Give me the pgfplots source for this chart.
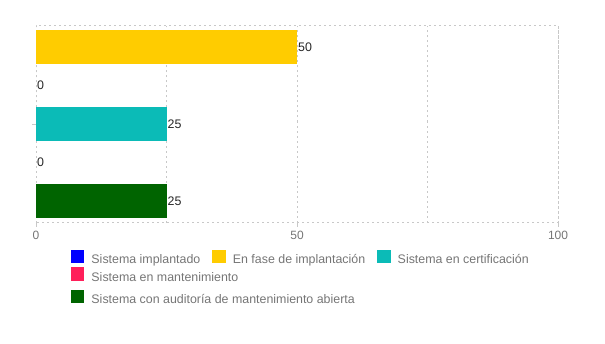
\documentclass[border=0pt]{standalone}
\usepackage{pgfplots}
\pgfplotsset{compat=1.18}
\usepackage{fontspec}
\setmainfont{Liberation Sans}
\definecolor{cBlue}{HTML}{0000FF}
\definecolor{cYellow}{HTML}{FFCC00}
\definecolor{cTeal}{HTML}{0BBBB7}
\definecolor{cRed}{HTML}{FF1F5A}
\definecolor{cGreen}{HTML}{006400}
\definecolor{txtgray}{HTML}{757575}
\definecolor{gridgray}{HTML}{C8C8C8}
\pgfplotsset{
  sqlegend/.style={
    legend image code/.code={\fill[##1] (0bp,-3.5bp) rectangle (13.5bp,10bp);},
    legend cell align=left,
    legend style={draw=none, fill=none, inner sep=0pt, outer sep=0pt, anchor=north west,
      font=\fontsize{12.4bp}{14bp}\selectfont, text=txtgray,
      nodes={inner sep=0pt},
      row sep=7bp,
      /tikz/every odd column/.append style={column sep=7bp},
      /tikz/every even column/.append style={column sep=12bp}},
  }
}
\begin{document}
\begin{tikzpicture}[x=1bp,y=1bp]
\path[use as bounding box] (0,0) rectangle (605,343);
\begin{axis}[
  at={(36bp,120.5bp)}, anchor=south west, scale only axis,
  width=522bp, height=197bp,
  xmin=0, xmax=100, ymin=-0.55, ymax=4.55,
  xbar, bar width=33.7bp, bar shift=0pt,
  xtick={0,50,100}, minor xtick={25,75}, xmajorgrids, xminorgrids,
  ytick={2}, yticklabels={},
  xtick pos=bottom, ytick pos=left, tick align=outside,
  major tick length=4bp, minor tick length=0pt,
  grid style={gridgray, dash pattern=on 2bp off 3bp},
  axis line style={gridgray, dash pattern=on 2bp off 3bp},
  tick style={gridgray, solid},
  ticklabel style={font=\fontsize{12bp}{14bp}\selectfont, text=txtgray},
  /pgf/number format/assume math mode=true,
  xticklabel style={yshift=-1bp},
  nodes near coords, point meta=x,
  every node near coord/.style={anchor=west, inner sep=0.5bp, xshift=0.5bp,
    font=\fontsize{12.4bp}{14bp}\selectfont, text=black!85},
  sqlegend, legend columns=3,
  legend style={at={(0.067,-0.138)}},
]
\addlegendimage{draw=none, fill=cBlue}
\addlegendentry{Sistema implantado}
\addplot[draw=none, fill=none, forget plot] coordinates {(0,3)};
\addplot[draw=none, fill=cYellow] coordinates {(50,4)};
\addlegendentry{En fase de implantación}
\addplot[draw=none, fill=cTeal] coordinates {(25,2)};
\addlegendentry{Sistema en certificación}
\addplot[draw=none, fill=none, forget plot] coordinates {(0,1)};
\addplot[draw=none, fill=cGreen, forget plot] coordinates {(25,0)};
\end{axis}
\begin{axis}[
  at={(36bp,120.5bp)}, anchor=south west, scale only axis,
  width=522bp, height=197bp,
  xmin=0, xmax=1, ymin=0, ymax=1, hide axis,
  sqlegend, legend columns=1,
  legend style={at={(0.067,-0.228)}},
]
\addlegendimage{draw=none, fill=cRed}
\addlegendentry{Sistema en mantenimiento}
\addlegendimage{draw=none, fill=cGreen}
\addlegendentry{Sistema con auditoría de mantenimiento abierta}
\end{axis}
\end{tikzpicture}
\end{document}
